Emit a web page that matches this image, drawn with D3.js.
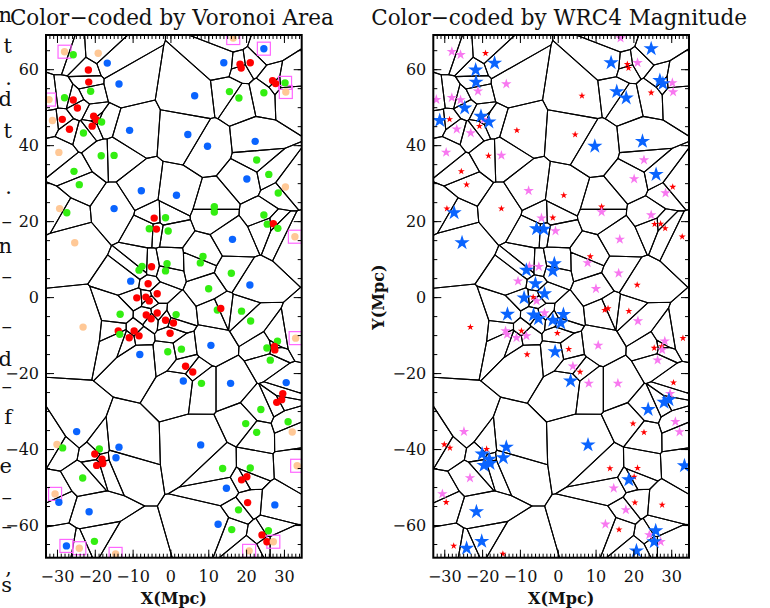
<!DOCTYPE html>
<html>
<head>
<meta charset="utf-8">
<script src="https://cdn.jsdelivr.net/npm/d3@7"></script>
<style>
  body { margin: 0; background: #fff; }
  text { font-family: "DejaVu Serif", "Liberation Serif", serif; fill: #111; }
</style>
</head>
<body>
<svg id="chart" width="770" height="608"></svg>
<script>
// galaxy rows: x(Mpc), y(Mpc), area class, WRC4 magnitude class, boxed (cell hits the edge)
// area: R small, G medium, B large, P largest ; mag: f faint, m medium, b bright
var galaxies = [
  [-28.0, 64.6, "P", "m", 1], [-25.7, 63.8, "G", "m", 0], [-19.1, 64.2, "P", "f", 0],
  [-16.7, 61.6, "B", "b", 0], [-21.7, 59.8, "R", "b", 0], [-21.6, 56.6, "R", "b", 0],
  [-21.1, 54.2, "G", "m", 0], [-13.6, 56.1, "B", "m", 0], [-32.1, 52.0, "P", "m", 1],
  [-28.0, 52.5, "G", "m", 0], [-25.7, 51.9, "R", "m", 0], [-24.6, 49.8, "R", "b", 0],
  [-31.2, 46.5, "P", "b", 0], [-28.6, 46.8, "R", "f", 0], [-26.7, 44.2, "R", "m", 0],
  [-20.3, 47.6, "R", "b", 0], [-19.6, 46.7, "R", "m", 0], [-20.7, 45.0, "R", "f", 0],
  [-18.2, 46.1, "G", "b", 0], [-23.0, 43.2, "G", "m", 0], [-10.8, 43.9, "B", "f", 0],
  [6.4, 53.0, "B", "f", 0], [4.6, 42.8, "B", "f", 0], [9.8, 39.7, "B", "b", 0],
  [-29.5, 38.1, "P", "m", 0], [-18.3, 37.2, "G", "f", 0], [-14.9, 37.3, "G", "m", 0],
  [16.6, 68.2, "P", "m", 1], [24.7, 65.4, "B", "b", 1], [14.1, 61.7, "B", "b", 0],
  [18.4, 61.3, "R", "f", 0], [18.7, 60.3, "R", "f", 0], [21.1, 61.7, "R", "m", 0],
  [27.0, 57.0, "R", "b", 0], [27.8, 56.2, "R", "b", 0], [30.3, 56.4, "G", "m", 1],
  [30.5, 54.0, "P", "m", 1], [15.6, 54.1, "G", "b", 0], [18.1, 52.4, "G", "b", 0],
  [24.7, 53.8, "G", "f", 0], [22.4, 41.0, "B", "b", 0], [22.8, 36.1, "G", "m", 0],
  [-25.5, 33.1, "G", "f", 0], [-24.1, 29.6, "G", "f", 0], [-7.7, 28.0, "B", "m", 0],
  [1.6, 26.8, "B", "f", 0], [20.2, 31.1, "B", "m", 0], [26.0, 32.3, "G", "b", 0],
  [30.4, 29.0, "P", "f", 0], [28.5, 27.4, "G", "m", 0], [-29.3, 23.3, "P", "f", 0],
  [-27.4, 22.2, "G", "b", 0], [-14.9, 23.3, "B", "f", 0], [11.6, 23.8, "G", "f", 0],
  [11.6, 22.4, "G", "m", 0], [-4.3, 20.8, "R", "m", 0], [-1.3, 20.9, "G", "f", 0],
  [-5.6, 18.0, "G", "b", 0], [-3.7, 17.9, "R", "b", 0], [-0.6, 17.4, "G", "m", 0],
  [24.7, 21.6, "G", "m", 0], [25.6, 19.2, "G", "f", 0], [27.2, 19.3, "R", "f", 0],
  [28.4, 18.1, "G", "f", 0], [32.9, 15.9, "P", "f", 1], [-25.3, 14.3, "P", "b", 0],
  [16.4, 15.2, "B", "m", 0], [8.6, 10.7, "G", "f", 0], [7.9, 9.0, "G", "m", 0],
  [-7.5, 8.1, "G", "m", 0], [-8.3, 7.1, "G", "b", 0], [-5.0, 8.0, "R", "m", 0],
  [-0.9, 8.8, "G", "b", 0], [-1.3, 6.9, "G", "b", 0], [16.1, 6.3, "G", "m", 0],
  [-10.5, 4.2, "B", "m", 0], [-5.9, 3.5, "R", "b", 0], [21.0, 3.2, "B", "f", 0],
  [10.1, 2.2, "G", "m", 0], [-3.5, 0.9, "R", "b", 0], [-8.9, -0.2, "R", "b", 0],
  [-6.5, 0.0, "R", "f", 0], [-5.6, -1.0, "R", "m", 0], [-13.3, -4.5, "G", "b", 0],
  [-6.4, -4.7, "R", "b", 0], [-5.1, -5.7, "R", "b", 0], [-3.5, -4.2, "R", "m", 0],
  [1.5, -4.6, "G", "b", 0], [-1.3, -6.1, "R", "b", 0], [0.8, -6.8, "R", "b", 0],
  [-0.1, -9.5, "R", "f", 0], [-23.1, -7.9, "P", "f", 0], [-13.8, -8.9, "R", "m", 0],
  [-13.4, -9.8, "G", "m", 0], [-9.6, -8.9, "R", "f", 0], [-10.9, -10.7, "R", "m", 0],
  [-8.3, -10.2, "R", "m", 0], [-8.1, -15.1, "B", "f", 0], [-0.7, -14.4, "G", "b", 0],
  [2.9, -13.7, "G", "f", 0], [10.7, -12.7, "B", "m", 0], [12.4, -3.4, "G", "f", 0],
  [13.3, -3.0, "R", "f", 0], [18.8, -3.7, "G", "f", 0], [21.2, -6.3, "G", "m", 0],
  [33.1, -10.8, "P", "f", 1], [28.3, -11.6, "G", "m", 0], [25.5, -13.4, "G", "f", 0],
  [27.5, -13.0, "R", "f", 0], [27.6, -13.9, "R", "m", 0], [26.4, -16.6, "G", "m", 0],
  [4.0, -18.2, "R", "m", 0], [5.9, -19.7, "R", "f", 0], [3.4, -22.1, "B", "b", 0],
  [8.2, -22.7, "G", "m", 0], [15.9, -22.7, "B", "m", 0], [30.6, -22.5, "B", "f", 0],
  [29.7, -25.4, "R", "m", 0], [29.4, -27.0, "R", "b", 0], [28.1, -27.7, "R", "b", 0],
  [23.9, -29.6, "G", "b", 0], [19.9, -33.3, "G", "f", 0], [31.1, -32.8, "G", "m", 0],
  [32.2, -35.5, "P", "m", 0], [22.8, -35.6, "G", "f", 0], [-24.8, -35.4, "B", "m", 0],
  [-30.0, -38.8, "P", "f", 0], [-28.5, -39.7, "G", "f", 0], [-18.8, -40.0, "G", "f", 0],
  [-13.6, -39.5, "B", "b", 0], [-20.0, -41.3, "R", "b", 0], [-18.1, -42.7, "R", "b", 0],
  [-19.5, -44.3, "R", "b", 0], [-17.9, -43.8, "R", "b", 0], [-14.4, -42.3, "B", "b", 0],
  [8.0, -38.9, "B", "b", 0], [-23.2, -47.6, "G", "m", 0], [-30.5, -51.8, "P", "m", 1],
  [-29.5, -54.0, "B", "f", 0], [-21.5, -56.5, "B", "b", 0], [13.8, -45.1, "G", "f", 0],
  [21.1, -45.0, "G", "f", 0], [18.8, -48.1, "R", "b", 0], [20.2, -47.3, "R", "f", 0],
  [14.8, -50.3, "B", "m", 0], [33.5, -44.4, "P", "b", 1], [20.4, -54.1, "R", "f", 0],
  [18.0, -56.0, "G", "m", 0], [27.6, -54.7, "B", "f", 0], [12.6, -59.8, "B", "m", 0],
  [16.2, -61.2, "G", "f", 0], [25.9, -61.5, "G", "b", 0], [24.2, -62.6, "R", "m", 0],
  [25.5, -64.4, "R", "b", 0], [27.2, -64.4, "P", "m", 1], [20.8, -66.8, "P", "b", 1],
  [-20.1, -64.3, "G", "b", 0], [-27.5, -65.5, "B", "f", 1], [-24.1, -66.1, "P", "b", 1],
  [-14.5, -67.6, "P", "f", 1]
];

var areaClasses = ["R", "G", "B", "P"];
var areaColors = ["#ff0000", "#33ee11", "#0a64ff", "#ffc896"];
var magClasses = ["f", "m", "b"];
var magColors = ["#ff0000", "#f878f0", "#0a64ff"];
var magRadius = [3.7, 5.5, 8.0];

var xTicks = [-30, -20, -10, 0, 10, 20, 30];
var yTicks = [-60, -40, -20, 0, 20, 40, 60];
var titles = ["Color\u2212coded by Voronoi Area", "Color\u2212coded by WRC4 Magnitude"];

// clipped words of the neighbouring text column
var sideText = [["n", 22], ["t", 53], [".", 85], ["d", 106], ["t", 138], [".", 194],
  ["\u2013", 228], ["n", 253], ["\u2013", 283], ["\u2013", 333], ["d", 366], ["\u2013", 393],
  ["f", 424], ["e", 473], ["\u2013", 504], ["\u2013", 533], [",", 574], ["s", 592]];

var svg = d3.select("#chart");
var xDomain = [-32.9, 34.7];
var yDomain = [-68.6, 69.0];
var panelLeft = [46, 433.3];
var panelW = 255.7;
var plotTop = 35, plotBottom = 557.7;

var y = d3.scaleLinear().domain(yDomain).range([plotBottom, plotTop]);
var colorArea = d3.scaleOrdinal().domain(areaClasses).range(areaColors);
var colorMag = d3.scaleOrdinal().domain(magClasses).range(magColors);
var radMag = d3.scaleOrdinal().domain(magClasses).range(magRadius);

var delaunay = d3.Delaunay.from(galaxies, function (d) { return d[0]; }, function (d) { return d[1]; });
var voronoi = delaunay.voronoi([xDomain[0], yDomain[0], xDomain[1], yDomain[1]]);
var cells = Array.from(voronoi.cellPolygons());

var fmt = function (d) { return d < 0 ? "\u2212" + Math.abs(d) : d; };

var drawPanel = function (i) {
  var x = d3.scaleLinear().domain(xDomain).range([panelLeft[i], panelLeft[i] + panelW]);
  var g = svg.append("g");

  svg.append("clipPath").attr("id", "clip" + i)
    .append("rect").attr("x", x.range()[0]).attr("y", plotTop)
    .attr("width", panelW).attr("height", plotBottom - plotTop);

  var plot = g.append("g").attr("clip-path", "url(#clip" + i + ")");

  var line = d3.line().x(function (p) { return x(p[0]); }).y(function (p) { return y(p[1]); });
  plot.selectAll("path.cell").data(cells).enter().append("path")
    .attr("class", "cell")
    .attr("d", function (c) { return line(c) + "Z"; })
    .attr("fill", "none").attr("stroke", "#000").attr("stroke-width", 1.1)
    .attr("stroke-linejoin", "round");

  if (i === 0) {
    plot.selectAll("rect.box").data(galaxies.filter(function (d) { return d[4]; }))
      .enter().append("rect")
      .attr("class", "box")
      .attr("x", function (d) { return x(d[0]) - 6.5; })
      .attr("y", function (d) { return y(d[1]) - 6.5; })
      .attr("width", 13).attr("height", 13)
      .attr("fill", "none").attr("stroke", "#ff66ff").attr("stroke-width", 1.2);
    plot.selectAll("circle").data(galaxies).enter().append("circle")
      .attr("cx", function (d) { return x(d[0]); })
      .attr("cy", function (d) { return y(d[1]); })
      .attr("r", 3.7)
      .attr("fill", function (d) { return colorArea(d[2]); });
  } else {
    var order = galaxies.slice().sort(function (a, b) {
      return magClasses.indexOf(a[3]) - magClasses.indexOf(b[3]);
    });
    plot.selectAll("path.star").data(order).enter().append("path")
      .attr("class", "star")
      .attr("transform", function (d) { return "translate(" + x(d[0]) + "," + y(d[1]) + ")"; })
      .attr("d", function (d) {
        var r = radMag(d[3]);
        return d3.symbol(d3.symbolStar, r * r / 0.8908)();
      })
      .attr("fill", function (d) { return colorMag(d[3]); });
  }

  // major ticks inward, labels only on bottom and left
  var axes = [
    [d3.axisBottom(x).tickValues(xTicks), "translate(0," + plotBottom + ")", true],
    [d3.axisTop(x).tickValues(xTicks), "translate(0," + plotTop + ")", false],
    [d3.axisLeft(y).tickValues(yTicks), "translate(" + x.range()[0] + ",0)", true],
    [d3.axisRight(y).tickValues(yTicks), "translate(" + x.range()[1] + ",0)", false]
  ];
  axes.forEach(function (a, k) {
    var ag = g.append("g").attr("transform", a[1])
      .call(a[0].tickSize(-8).tickPadding(k === 2 ? 7 : 13)
        .tickFormat(a[2] ? fmt : ""));
    ag.select(".domain").remove();
    ag.selectAll("line").attr("stroke", "#000").attr("stroke-width", 1);
    ag.selectAll("text").style("font-size", "16px").attr("fill", "#111")
      .attr("font-family", "DejaVu Serif");
  });
  // minor ticks
  var minorX = d3.range(-32, 35, 1);
  var minorY = d3.range(-65, 70, 5);
  [[d3.axisBottom(x).tickValues(minorX), "translate(0," + plotBottom + ")"],
   [d3.axisTop(x).tickValues(minorX), "translate(0," + plotTop + ")"],
   [d3.axisLeft(y).tickValues(minorY), "translate(" + x.range()[0] + ",0)"],
   [d3.axisRight(y).tickValues(minorY), "translate(" + x.range()[1] + ",0)"]
  ].forEach(function (a) {
    var ag = g.append("g").attr("transform", a[1])
      .call(a[0].tickSize(-4).tickFormat(""));
    ag.select(".domain").remove();
    ag.selectAll("line").attr("stroke", "#000").attr("stroke-width", 1);
  });

  g.append("rect").attr("x", x.range()[0]).attr("y", plotTop)
    .attr("width", panelW).attr("height", plotBottom - plotTop)
    .attr("fill", "none").attr("stroke", "#000").attr("stroke-width", 2);

  g.append("text").attr("x", x.range()[0] + panelW / 2 - 2).attr("y", 25)
    .attr("text-anchor", "middle").style("font-size", "21.5px")
    .text(titles[i]);

  g.append("text").attr("x", x.range()[0] + panelW / 2).attr("y", 604)
    .attr("text-anchor", "middle").style("font-size", "16px").style("font-weight", "bold")
    .text("X(Mpc)");
};

drawPanel(0);
drawPanel(1);

svg.append("text")
  .attr("transform", "translate(384," + y(0) + ") rotate(-90)")
  .attr("text-anchor", "middle").style("font-size", "16px").style("font-weight", "bold")
  .text("Y(Mpc)");

svg.selectAll("text.side").data(sideText).enter().append("text")
  .attr("class", "side")
  .attr("x", 12).attr("y", function (d) { return d[1]; })
  .attr("text-anchor", "end").style("font-size", "21px")
  .text(function (d) { return d[0]; });
</script>
</body>
</html>
